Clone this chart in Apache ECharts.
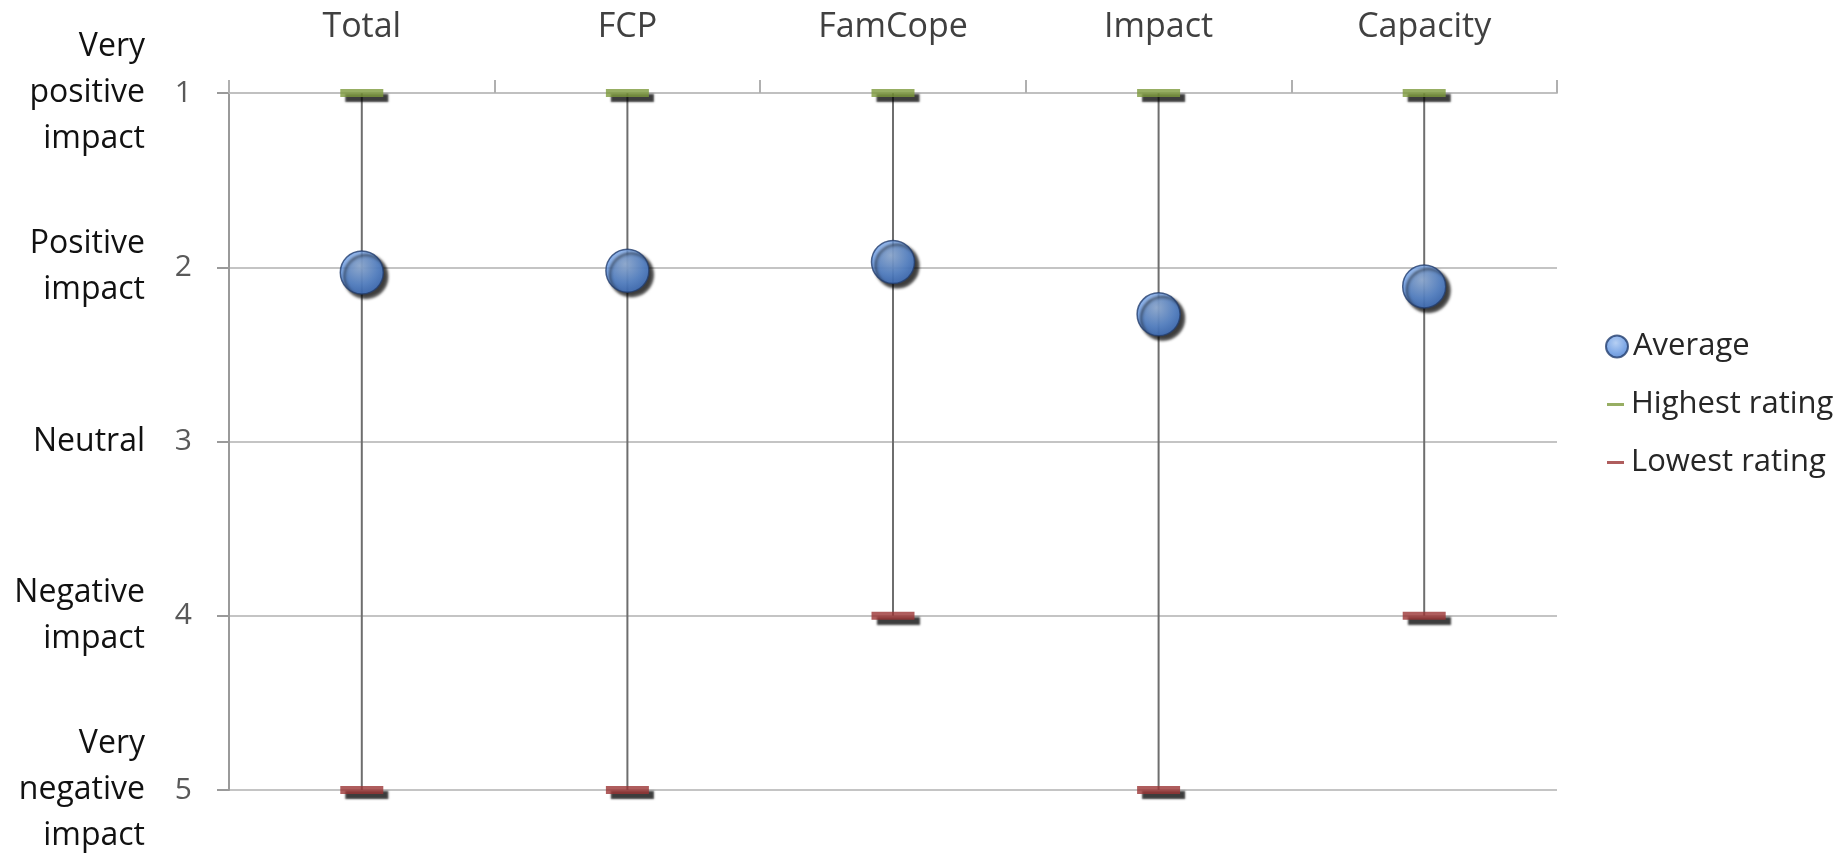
<!DOCTYPE html>
<html>
<head>
<meta charset="utf-8">
<script src="https://cdn.jsdelivr.net/npm/echarts@6/dist/echarts.min.js"></script>
<style>html,body{margin:0;padding:0;background:#fff}#c{width:1848px;height:859px}</style>
</head>
<body>
<div id="c"></div>
<script>
const categories = ['Total', 'FCP', 'FamCope', 'Impact', 'Capacity'];
const averageValues = [2.03, 2.02, 1.97, 2.27, 2.11];
const highestValues = [1, 1, 1, 1, 1];
const lowestValues = [5, 5, 4, 5, 4];
const ratingTicks = [1, 2, 3, 4, 5];
const ratingLabels = {
  1: 'Very\npositive\nimpact',
  2: 'Positive\nimpact',
  3: 'Neutral',
  4: 'Negative\nimpact',
  5: 'Very\nnegative\nimpact'
};

const FONT = 'Open Sans';
const chart = echarts.init(document.getElementById('c'));
const rangeData = categories.map((c, i) => [i, highestValues[i], lowestValues[i]]);

chart.setOption({
  animation: false,
  backgroundColor: '#ffffff',
  grid: { left: 229, right: 291, top: 93, bottom: 67 },
  legend: [
    {
      orient: 'vertical', left: 1600, top: 326,
      itemWidth: 22, itemHeight: 22, itemGap: 20,
      textStyle: { fontFamily: FONT, fontSize: 31, color: '#262626' },
      data: [{ name: 'Average', icon: 'circle' }]
    },
    {
      orient: 'vertical', left: 1602, top: 384,
      itemWidth: 17, itemHeight: 3, itemGap: 27,
      textStyle: { fontFamily: FONT, fontSize: 31, color: '#262626', padding: [0, 0, 0, 2] },
      data: [{ name: 'Highest rating', icon: 'rect' }, { name: 'Lowest rating', icon: 'rect' }]
    }
  ],
  xAxis: {
    type: 'category',
    position: 'top',
    data: categories,
    boundaryGap: true,
    axisLine: { show: true, lineStyle: { color: '#c0c0c0', width: 2 } },
    axisTick: { show: true, inside: false, length: 13, lineStyle: { color: '#b0b0b0', width: 2 } },
    axisLabel: { fontFamily: FONT, fontSize: 34, color: '#404040', margin: 49 },
    splitLine: { show: false }
  },
  yAxis: [
    {
      type: 'value', inverse: true, min: 1, max: 5, interval: 1,
      position: 'left',
      axisLine: { show: true, lineStyle: { color: '#9a9a9a', width: 2 } },
      axisTick: { show: true, inside: false, length: 12, lineStyle: { color: '#9a9a9a', width: 2 } },
      axisLabel: { fontFamily: FONT, fontSize: 30, color: '#595959', margin: 37,
        formatter: v => ratingTicks.indexOf(v) >= 0 ? String(v) : '' },
      splitLine: { show: true, lineStyle: { color: '#c4c4c4', width: 2 } }
    },
    {
      type: 'value', inverse: true, min: 1, max: 5, interval: 1,
      position: 'left', offset: 84,
      axisLine: { show: false }, axisTick: { show: false }, splitLine: { show: false },
      axisLabel: { fontFamily: FONT, fontSize: 32, color: '#111111', margin: 0,
        lineHeight: 46, align: 'right',
        formatter: v => ratingLabels[v] || '' }
    }
  ],
  series: [
    {
      name: 'range',
      type: 'custom',
      z: 1,
      data: rangeData,
      renderItem: function (params, api) {
        const top = api.coord([api.value(0), api.value(1)]);
        const bot = api.coord([api.value(0), api.value(2)]);
        return {
          type: 'line',
          shape: { x1: top[0], y1: top[1], x2: bot[0], y2: bot[1] },
          style: { stroke: '#6e6e6e', lineWidth: 2 }
        };
      },
      silent: true
    },
    {
      name: 'Highest rating',
      type: 'scatter',
      z: 3,
      symbol: 'rect',
      symbolSize: [43, 8],
      data: highestValues,
      itemStyle: { color: '#7d9a3c', shadowColor: 'rgba(0,0,0,0.95)', shadowBlur: 2, shadowOffsetX: 5, shadowOffsetY: 5 }
    },
    {
      name: 'Lowest rating',
      type: 'scatter',
      z: 3,
      symbol: 'rect',
      symbolSize: [43, 8],
      data: lowestValues,
      itemStyle: { color: '#9b3535', shadowColor: 'rgba(0,0,0,0.95)', shadowBlur: 2, shadowOffsetX: 5, shadowOffsetY: 5 }
    },
    {
      name: 'Average',
      type: 'scatter',
      z: 4,
      symbol: 'circle',
      symbolSize: 43,
      data: averageValues,
      itemStyle: {
        color: new echarts.graphic.RadialGradient(0.45, 0.35, 0.7, [
          { offset: 0, color: '#a3c3f0' },
          { offset: 0.6, color: '#5f93e0' },
          { offset: 1, color: '#3c70c4' }
        ]),
        borderColor: '#243f6e', borderWidth: 1.5,
        shadowColor: 'rgba(0,0,0,0.95)', shadowBlur: 3, shadowOffsetX: 4, shadowOffsetY: 4
      }
    }
  ]
});
</script>
</body>
</html>
